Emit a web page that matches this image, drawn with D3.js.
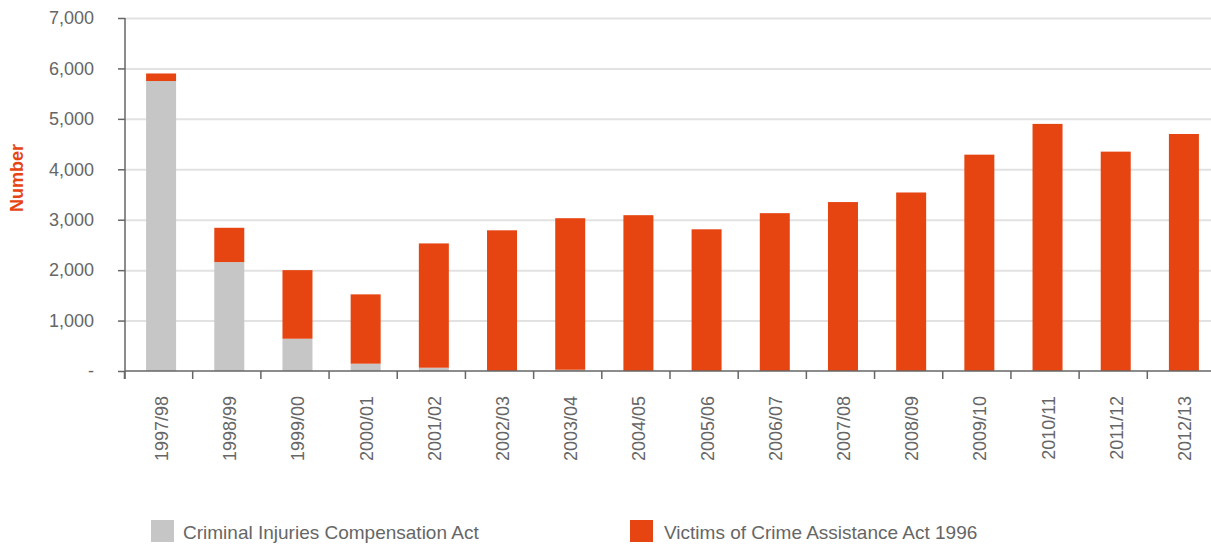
<!DOCTYPE html>
<html>
<head>
<meta charset="utf-8">
<script src="https://cdn.jsdelivr.net/npm/d3@7"></script>
<style>
	body { margin: 0; background: #fff; }
	svg { display: block; font-family: "Liberation Sans", Arial, sans-serif; }
	.axis text { fill: #666; font-size: 18px; }
	.axis path, .axis line { stroke: #666; stroke-width: 1.5; }
	.grid line { stroke: #e2e2e2; stroke-width: 2; }
	.grid path { display: none; }
</style>
</head>
<body>
<div id="chart"></div>
<script>
var years = ["1997/98", "1998/99", "1999/00", "2000/01", "2001/02", "2002/03", "2003/04", "2004/05",
	"2005/06", "2006/07", "2007/08", "2008/09", "2009/10", "2010/11", "2011/12", "2012/13"];
var cica = [5750, 2160, 640, 145, 65, 0, 25, 0, 0, 0, 0, 0, 0, 0, 0, 0];
var vocaa = [150, 680, 1360, 1375, 2465, 2790, 3005, 3090, 2810, 3130, 3350, 3540, 4290, 4900, 4350, 4700];
var seriesNames = ["Criminal Injuries Compensation Act", "Victims of Crime Assistance Act 1996"];
var yTicks = [0, 1000, 2000, 3000, 4000, 5000, 6000, 7000];

var colors = ["#c6c6c6", "#e64512"];

var width = 1211, height = 545;
var margin = {top: 18, left: 125, bottom: 174};
var plotBottom = height - margin.bottom;

var svg = d3.select("div#chart").append("svg")
		.attr("width", width)
		.attr("height", height);

var x = d3.scaleBand()
		.domain(years)
		.range([margin.left, 1216])
		.paddingInner(0.56)
		.paddingOuter(0.28);

var y = d3.scaleLinear()
		.domain([0, 7000])
		.range([plotBottom, margin.top]);

// gridlines
svg.append("g")
	.attr("class", "grid")
	.attr("transform", "translate(" + margin.left + ",0)")
	.call(d3.axisLeft(y).tickValues(yTicks.slice(1)).tickSize(-(width - margin.left)).tickFormat(""));

// stacked bars
var rows = years.map(function(d, i) { return {year: d, a: cica[i], b: vocaa[i]}; });
var stack = d3.stack().keys(["a", "b"])(rows);

svg.append("g").selectAll("g")
	.data(stack)
	.enter().append("g")
		.attr("fill", function(d, i) { return colors[i]; })
	.selectAll("rect")
	.data(function(d) { return d; })
	.enter().append("rect")
		.attr("x", function(d) { return x(d.data.year) + 2; })
		.attr("width", x.bandwidth())
		.attr("y", function(d) { return y(d[1]); })
		.attr("height", function(d) { return y(d[0]) - y(d[1]); });

// y axis
var yAxis = svg.append("g")
	.attr("class", "y axis")
	.attr("transform", "translate(" + margin.left + ",0)")
	.call(d3.axisLeft(y).tickValues(yTicks).tickSize(7).tickPadding(24)
		.tickFormat(function(d) { return d === 0 ? "-" : d3.format(",")(d); }));
yAxis.select(".domain").attr("d", "M0," + y(7000) + "V" + (plotBottom + 8));

// x axis, ticks sit on band boundaries
var xg = svg.append("g")
	.attr("class", "x axis")
	.attr("transform", "translate(0," + plotBottom + ")");
xg.append("line")
	.attr("x1", margin.left).attr("x2", width)
	.attr("y1", 0).attr("y2", 0);
xg.selectAll("line.tick")
	.data(years)
	.enter().append("line")
		.attr("class", "tick")
		.attr("x1", function(d) { return x(d) - x.step() * x.paddingInner() / 2 - 0.5; })
		.attr("x2", function(d) { return x(d) - x.step() * x.paddingInner() / 2 - 0.5; })
		.attr("y1", 0).attr("y2", 8);
xg.selectAll("text")
	.data(years)
	.enter().append("text")
		.attr("text-anchor", "end")
		.attr("transform", function(d) {
			return "translate(" + (x(d) + x.bandwidth() / 2 + 9) + ",25) rotate(-90)";
		})
		.text(function(d) { return d; });

// y title
svg.append("text")
	.attr("text-anchor", "middle")
	.attr("transform", "translate(23,178) rotate(-90)")
	.attr("fill", "#e64512")
	.style("font-size", "18px")
	.style("font-weight", "bold")
	.text("Number");

// legend
var legendX = [151, 630];
var legend = svg.append("g").selectAll("g")
	.data(seriesNames)
	.enter().append("g")
		.attr("transform", function(d, i) { return "translate(" + legendX[i] + ",520)"; });
legend.append("rect")
	.attr("width", 23).attr("height", 22)
	.attr("fill", function(d, i) { return colors[i]; });
legend.append("text")
	.attr("x", function(d, i) { return i === 0 ? 32 : 34; })
	.attr("y", 19)
	.attr("fill", "#666")
	.style("font-size", "19px")
	.text(function(d) { return d; });
</script>
</body>
</html>
